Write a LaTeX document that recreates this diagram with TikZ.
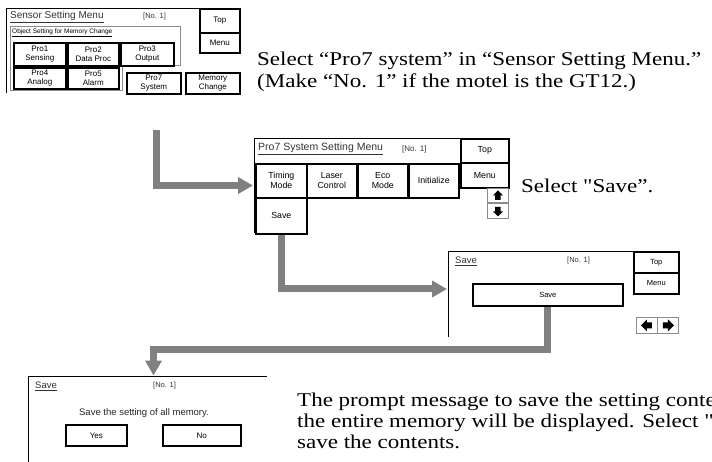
\documentclass[tikz,border=0pt]{standalone}
\usepackage{fontspec}
\setmainfont{Liberation Serif}
\newfontfamily\uisans{Liberation Sans}
\newfontfamily\descfont[FakeStretch=1.18]{Liberation Serif}
\usetikzlibrary{arrows.meta,calc}
\definecolor{flowgray}{HTML}{808080}
\begin{document}
\begin{tikzpicture}[x=1pt,y=-1pt,
  frame/.style={line width=0.9pt, draw=black},
  grpframe/.style={line width=0.7pt, draw=black!45},
  btn/.style={draw=black, line width=1.6pt, fill=white, inner sep=0pt, align=center,
    anchor=north west, font=\uisans\fontsize{8}{9}\selectfont},
  bigbtn/.style={btn, font=\uisans\fontsize{8.8}{10}\selectfont},
  ttl/.style={anchor=west, inner sep=0pt, text=black!80, font=\uisans\fontsize{10}{12}\selectfont},
  nolbl/.style={anchor=west, inner sep=0pt, text=black!80, font=\uisans\fontsize{7.5}{9}\selectfont},
  arrbox/.style={draw=black!45, line width=0.8pt, fill=white, inner sep=0pt, anchor=north west},
  flow/.style={draw=flowgray, line width=7pt, line join=miter, -{Triangle[length=15pt,width=16pt]}},
  desc/.style={anchor=west, inner sep=0pt, align=left, font=\descfont\fontsize{19.5}{22}\selectfont},
]
\useasboundingbox (0,0) rectangle (712,462);
\clip (0,0) rectangle (712,462);

% ---------- Screen 1: Sensor Setting Menu ----------
\draw[frame] (6,93) -- (6,8) -- (199,8);
\draw[grpframe] (10,26) -- (180,26) -- (180,65) -- (122,65) -- (122,90) -- (10,90) -- cycle;
\node[ttl] (t1) at (10,17) {\underline{Sensor Setting Menu}};
\node[nolbl] (n1) at (143,17) {[No. 1]};
\node[anchor=west, inner sep=0pt, font=\uisans\fontsize{6.5}{8}\selectfont] (obj) at (12,33) {\underline{Object Setting for Memory Change}};
\node[btn, minimum width=52pt, minimum height=23pt] (pro1) at (13,42) {Pro1\\Sensing};
\node[btn, minimum width=51pt, minimum height=23pt] (pro2) at (67,42) {Pro2\\Data Proc};
\node[btn, minimum width=53pt, minimum height=23pt] (pro3) at (120,42) {Pro3\\Output};
\node[btn, minimum width=52pt, minimum height=21pt] (pro4) at (13,67) {Pro4\\Analog};
\node[btn, minimum width=51pt, minimum height=21pt] (pro5) at (67,67) {Pro5\\Alarm};
\node[btn, minimum width=54pt, minimum height=21pt] (pro7) at (126,72) {Pro7\\System};
\node[btn, minimum width=54pt, minimum height=21pt] (memch) at (185,72) {Memory\\Change};
\node[btn, minimum width=40pt, minimum height=24pt] (top1) at (199,8) {Top};
\node[btn, minimum width=40pt, minimum height=20pt] (menu1) at (199,32) {Menu};

\node[desc] (d1) at (257,72) {Select “Pro7 system” in “Sensor Setting Menu.”\\(Make “No. 1” if the motel is the GT12.)};

% ---------- Screen 2: Pro7 System Setting Menu ----------
\draw[frame] (254,233) -- (254,138) -- (460,138) -- (460,163) -- (254,163);
\node[ttl, font=\uisans\fontsize{10.5}{12}\selectfont] (t2) at (258,149) {\underline{Pro7 System Setting Menu}};
\node[nolbl, font=\uisans\fontsize{8}{9}\selectfont] (n2) at (402,149) {[No. 1]};
\node[bigbtn, minimum width=51pt, minimum height=34pt] (timing) at (255,163) {Timing\\Mode};
\node[bigbtn, minimum width=50pt, minimum height=34pt] (laser) at (306,163) {Laser\\Control};
\node[bigbtn, minimum width=50pt, minimum height=34pt] (eco) at (357,163) {Eco\\Mode};
\node[bigbtn, minimum width=50pt, minimum height=34pt] (init) at (408,163) {Initialize};
\node[bigbtn, minimum width=51pt, minimum height=36pt] (save2) at (255,197) {Save};
\node[bigbtn, minimum width=48pt, minimum height=24pt] (top2) at (460,138) {Top};
\node[bigbtn, minimum width=48pt, minimum height=25pt] (menu2) at (460,162) {Menu};
\node[arrbox, minimum width=21pt, minimum height=14pt] (up2) at (487,188) {};
\node[arrbox, minimum width=21pt, minimum height=15pt] (down2) at (487,203) {};
\fill[black] ($(up2.center)+(0,-5)$) -- ++(5,5) -- ++(-2.3,0) -- ++(0,4.5) -- ++(-5.4,0) -- ++(0,-4.5) -- ++(-2.3,0) -- cycle;
\fill[black] ($(down2.center)+(0,5.5)$) -- ++(5,-5) -- ++(-2.3,0) -- ++(0,-4.5) -- ++(-5.4,0) -- ++(0,4.5) -- ++(-2.3,0) -- cycle;

\node[desc] (d2) at (521,186) {Select "Save”.};

% ---------- Screen 3: Save ----------
\draw[frame] (448,337) -- (448,251) -- (633,251);
\node[ttl, font=\uisans\fontsize{9.5}{11}\selectfont] (t3) at (455,261) {\underline{Save}};
\node[nolbl] (n3) at (567,261) {[No. 1]};
\node[btn, minimum width=45pt, minimum height=21pt, font=\uisans\fontsize{7.5}{9}\selectfont] (top3) at (633,251) {Top};
\node[btn, minimum width=45pt, minimum height=21pt, font=\uisans\fontsize{7.5}{9}\selectfont] (menu3) at (633,272) {Menu};
\node[btn, minimum width=150pt, minimum height=22pt, font=\uisans\fontsize{7.5}{9}\selectfont] (save3) at (472,283) {Save};
\node[arrbox, minimum width=21pt, minimum height=16pt] (left3) at (636,317) {};
\node[arrbox, minimum width=21pt, minimum height=16pt] (right3) at (657,317) {};
\fill[black] ($(left3.center)+(-6,0)$) -- ++(6,-6) -- ++(0,3) -- ++(5,0) -- ++(0,6) -- ++(-5,0) -- ++(0,3) -- cycle;
\fill[black] ($(right3.center)+(6,0)$) -- ++(-6,-6) -- ++(0,3) -- ++(-5,0) -- ++(0,6) -- ++(5,0) -- ++(0,3) -- cycle;

% ---------- Screen 4: Save confirmation ----------
\draw[frame] (28,462) -- (28,376) -- (267,376);
\node[ttl, font=\uisans\fontsize{9.5}{11}\selectfont] (t4) at (35,386) {\underline{Save}};
\node[nolbl] (n4) at (153,386) {[No. 1]};
\node[anchor=center, inner sep=0pt, text=black!85, font=\uisans\fontsize{9.5}{11}\selectfont] (msg4) at (144,413) {Save the setting of all memory.};
\node[btn, minimum width=61pt, minimum height=21pt, font=\uisans\fontsize{8}{9}\selectfont] (yes) at (65,424) {Yes};
\node[btn, minimum width=78pt, minimum height=21pt, font=\uisans\fontsize{8}{9}\selectfont] (no) at (162,424) {No};

\node[desc, font=\descfont\fontsize{19.5}{21}\selectfont] (d3) at (297,421) {The prompt message to save the setting contents of\\the entire memory will be displayed. Select "Yes" to\\save the contents.};

% ---------- flow arrows ----------
\coordinate (a1start) at (156.5,130);
\coordinate (a1end) at (253,185.5);
\draw[flow] (a1start) |- (a1end);
\coordinate (a2end) at (447,289);
\draw[flow] (save2.south) |- (a2end);
\coordinate (a3turn) at (153.5,349.5);
\coordinate (a3end) at (153.5,375.5);
\draw[flow] (save3.south) |- (a3turn) -- (a3end);
\end{tikzpicture}
\end{document}
